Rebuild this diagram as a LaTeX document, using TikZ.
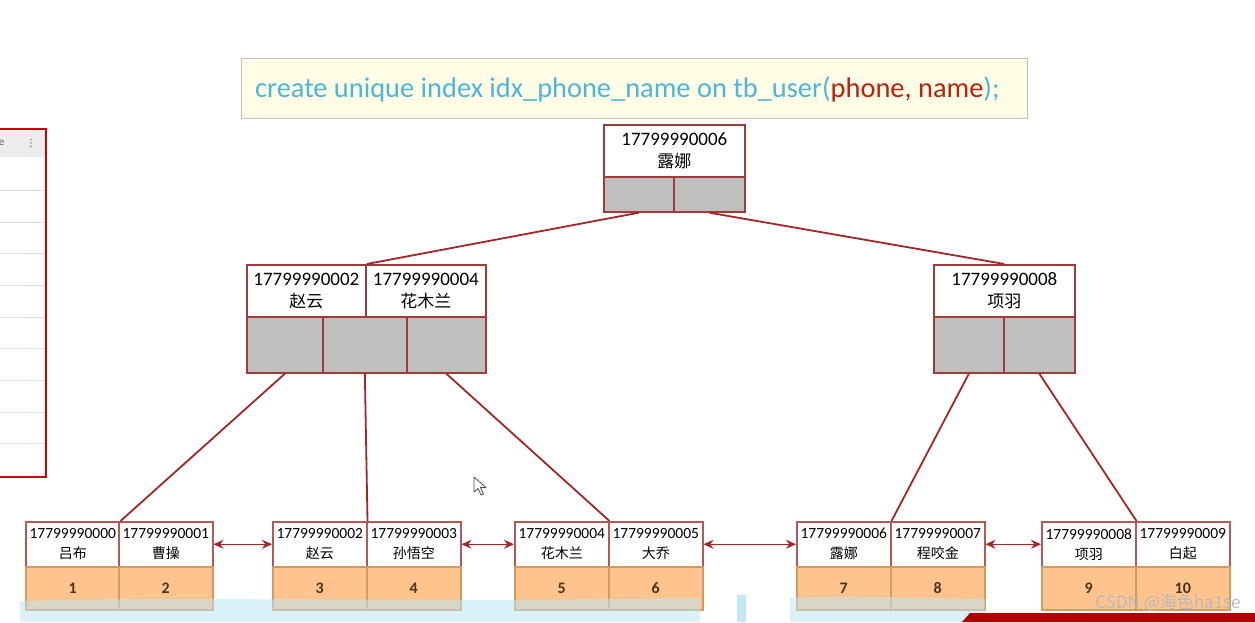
\documentclass[tikz,border=0pt]{standalone}
\usepackage{fontspec}
\setmainfont{Carlito}
\newfontfamily\cjk{Noto Sans CJK SC}
\newfontfamily\sqlfont{Carlito}
\usetikzlibrary{arrows.meta}
\definecolor{nodeborder}{HTML}{9E3B3B}
\definecolor{linkred}{HTML}{A3262A}
\definecolor{ptrgray}{HTML}{BFBFBF}
\definecolor{leafborder}{HTML}{B25A55}
\definecolor{orangefill}{HTML}{FFC38E}
\definecolor{orangeborder}{HTML}{D49A5E}
\definecolor{sqlblue}{HTML}{4DB6D6}
\definecolor{sqlred}{HTML}{B8220F}
\definecolor{sqlfill}{HTML}{FFFDE6}
\definecolor{bandblue}{HTML}{BDE6F4}
\tikzset{
  keycell/.style={draw=nodeborder, fill=white, line width=1.7pt, inner sep=0pt,
    minimum height=52, align=center, font=\fontsize{19}{22}\selectfont, anchor=north west},
  ptrcell/.style={draw=nodeborder, fill=ptrgray, line width=1.7pt, inner sep=0pt, anchor=north west},
  leafkey/.style={draw=leafborder, fill=white, line width=1.5pt, inner sep=0pt,
    minimum width=94, minimum height=45, align=center, font=\fontsize{15.5}{20}\selectfont, anchor=north west},
  leafval/.style={draw=orangeborder, fill=orangefill, line width=1.5pt, inner sep=0pt,
    minimum width=94, minimum height=43, text=brown!40!black, font=\bfseries\fontsize{16}{17}\selectfont, anchor=north west},
  link/.style={draw=linkred, line width=1.8pt},
  sibling/.style={draw=linkred, line width=1.5pt, {Stealth[length=10pt,width=9pt]}-{Stealth[length=10pt,width=9pt]}},
}
\begin{document}
\begin{tikzpicture}[x=1pt,y=-1pt]
\useasboundingbox (0,0) rectangle (1255,622);
\fill[white] (0,0) rectangle (1255,622);

% partial table on the left
\draw[line width=2.5pt, draw=red!80!black, fill=white] (-5,129) rectangle (46,477);
\fill[gray!15] (-4,131) rectangle (44.5,157);
\foreach \yy in {190,222,253,285,317,348,380,412,443}
  \draw[gray!25, line width=0.8pt] (-4,\yy) -- (44,\yy);
\node[text=gray!70!black, font=\fontsize{11}{12}\selectfont, inner sep=0pt] (hdrE) at (1.5,143) {e};
\fill[gray!70] (31,139.5) circle (1.1) (31,143) circle (1.1) (31,146.5) circle (1.1);

% SQL statement box
\node[draw=gray!50, fill=sqlfill, line width=1pt, minimum width=786, minimum height=60,
  anchor=north west, inner sep=0pt] (sql) at (241,58) {};
\node[anchor=west, inner sep=0pt, font=\sqlfont\fontsize{28.4}{30}\selectfont] (sqltext) at (255,89)
  {\textcolor{sqlblue}{create unique index idx\_phone\_name on tb\_user(}\textcolor{sqlred}{phone, name}\textcolor{sqlblue}{);}};

% root
\node[keycell, minimum width=141] (rk) at (603,124) {17799990006\\{\cjk\fontsize{17}{22}\selectfont 露娜}};
\node[ptrcell, minimum width=70, minimum height=35] (rp1) at (603,176) {};
\node[ptrcell, minimum width=71, minimum height=35] (rp2) at (673,176) {};

% middle left
\node[keycell, minimum width=119] (mk1) at (246,264) {17799990002\\{\cjk\fontsize{17}{22}\selectfont 赵云}};
\node[keycell, minimum width=120] (mk2) at (365,264) {17799990004\\{\cjk\fontsize{17}{22}\selectfont 花木兰}};
\node[ptrcell, minimum width=76, minimum height=56] (mp1) at (246,316) {};
\node[ptrcell, minimum width=84, minimum height=56] (mp2) at (322,316) {};
\node[ptrcell, minimum width=79, minimum height=56] (mp3) at (406,316) {};

% middle right
\node[keycell, minimum width=141] (rk2) at (933,264) {17799990008\\{\cjk\fontsize{17}{22}\selectfont 项羽}};
\node[ptrcell, minimum width=70, minimum height=56] (mrp1) at (933,316) {};
\node[ptrcell, minimum width=71, minimum height=56] (mrp2) at (1003,316) {};

% leaves
\node[leafkey] (l1a) at (25,521) {17799990000\\{\cjk\fontsize{14}{20}\selectfont 吕布}};
\node[leafkey] (l1b) at (118,521) {17799990001\\{\cjk\fontsize{14}{20}\selectfont 曹操}};
\node[leafval] (l1c) at (25,566) {1};
\node[leafval] (l1d) at (118,566) {2};

\node[leafkey] (l2a) at (272,521) {17799990002\\{\cjk\fontsize{14}{20}\selectfont 赵云}};
\node[leafkey] (l2b) at (366,521) {17799990003\\{\cjk\fontsize{14}{20}\selectfont 孙悟空}};
\node[leafval] (l2c) at (272,566) {3};
\node[leafval] (l2d) at (366,566) {4};

\node[leafkey] (l3a) at (514,521) {17799990004\\{\cjk\fontsize{14}{20}\selectfont 花木兰}};
\node[leafkey] (l3b) at (608,521) {17799990005\\{\cjk\fontsize{14}{20}\selectfont 大乔}};
\node[leafval] (l3c) at (514,566) {5};
\node[leafval] (l3d) at (608,566) {6};

\node[leafkey] (l4a) at (796,521) {17799990006\\{\cjk\fontsize{14}{20}\selectfont 露娜}};
\node[leafkey] (l4b) at (890,521) {17799990007\\{\cjk\fontsize{14}{20}\selectfont 程咬金}};
\node[leafval] (l4c) at (796,566) {7};
\node[leafval] (l4d) at (890,566) {8};

\node[leafkey] (l5a) at (1041,521) {17799990008\\{\cjk\fontsize{14}{20}\selectfont 项羽}};
\node[leafkey] (l5b) at (1135,521) {17799990009\\{\cjk\fontsize{14}{20}\selectfont 白起}};
\node[leafval] (l5c) at (1041,566) {9};
\node[leafval] (l5d) at (1135,566) {10};

% tree links
\draw[link] (rp1.south) -- (mk1.north east);
\draw[link] (rp2.south) -- (rk2.north);
\draw[link] (mp1.south) -- (l1a.north east);
\draw[link] (mp2.south) -- (l2a.north east);
\draw[link] (mp3.south) -- (l3a.north east);
\draw[link] (mrp1.south) -- (l4a.north east);
\draw[link] (mrp2.south) -- (l5a.north east);

% sibling links
\draw[sibling] (l1b.east) -- (l2a.west);
\draw[sibling] (l2b.east) -- (l3a.west);
\draw[sibling] (l3b.east) -- (l4a.west);
\draw[sibling] (l4b.east) -- (l5a.west);

% mouse cursor
\draw[gray!60!black, fill=white, line width=0.8pt, line join=round]
  (474,477) -- (474,492) -- (478,488.5) -- (481,495) -- (483.5,494) -- (480.5,487.5) -- (486,487.5) -- cycle;

% bottom video overlay artefacts
\fill[bandblue, opacity=0.55] (20,601) .. controls (200,596) and (400,603) .. (700,598) -- (700,622) -- (20,622) -- cycle;
\fill[bandblue, opacity=0.9] (737,595) rectangle (746,622);
\fill[bandblue, opacity=0.55] (790,598) .. controls (850,595) and (900,598) .. (985,599) -- (985,622) -- (790,622) -- cycle;
\fill[red!70!black] (962,622) -- (970,613) -- (1255,613) -- (1255,622) -- cycle;

% watermark
\node[text=gray!55, font=\cjk\fontsize{17}{18}\selectfont, inner sep=0pt] (wm) at (1168,603) {CSDN @海色ha1se};
\end{tikzpicture}
\end{document}
